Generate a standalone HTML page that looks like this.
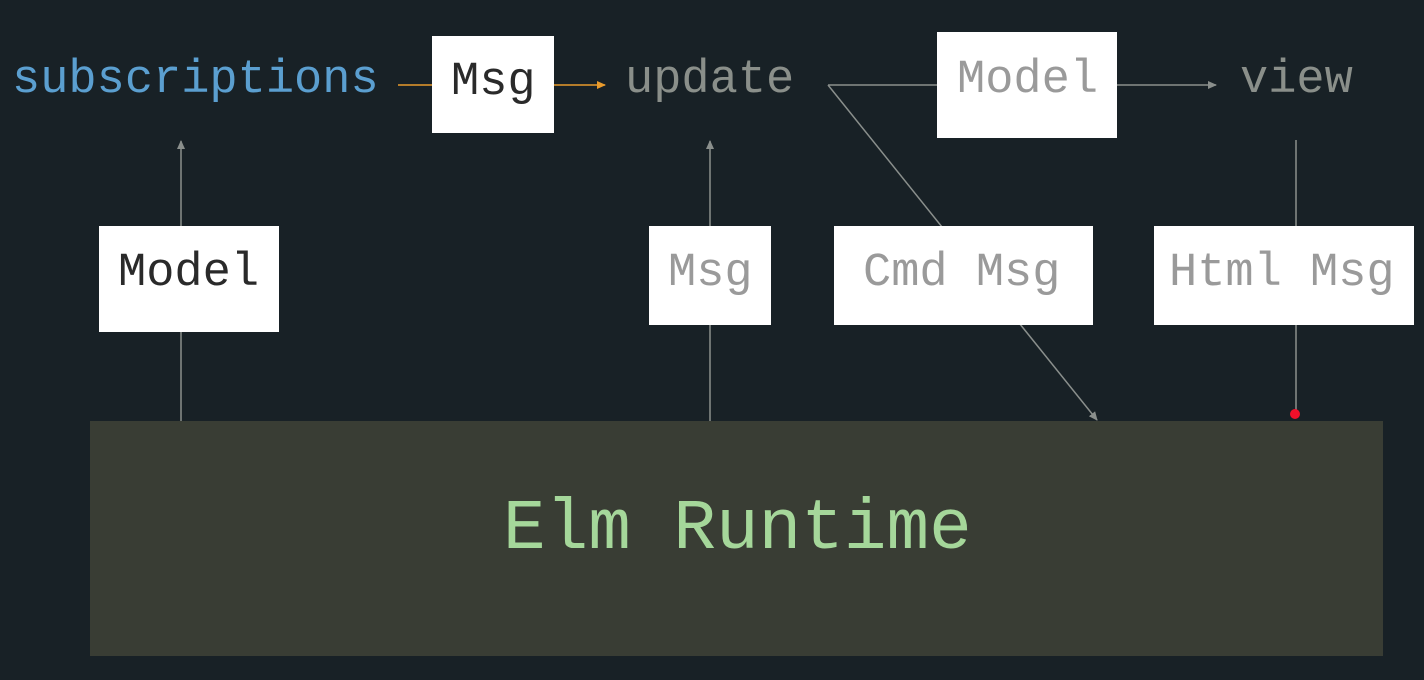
<!DOCTYPE html>
<html><head><style>
html,body{margin:0;padding:0;background:#182126;}
svg{display:block}
text{font-family:"Liberation Mono","DejaVu Sans Mono",monospace;}
</style></head><body>
<svg width="1424" height="680" viewBox="0 0 1424 680">
<defs>
<marker id="ag" markerWidth="10" markerHeight="10" refX="8" refY="4" orient="auto" markerUnits="userSpaceOnUse"><path d="M0,0 L9,4 L0,8 z" fill="#8a8f8c"/></marker>
<marker id="ao" markerWidth="10" markerHeight="10" refX="8" refY="4" orient="auto" markerUnits="userSpaceOnUse"><path d="M0,0 L9,4 L0,8 z" fill="#e89a2c"/></marker>
</defs>
<rect width="1424" height="680" fill="#182126"/>
<!-- lines -->
<g stroke="#8a8f8c" stroke-width="1.5" fill="none">
<line x1="181" y1="421" x2="181" y2="141" marker-end="url(#ag)"/>
<line x1="710" y1="421" x2="710" y2="141" marker-end="url(#ag)"/>
<line x1="828" y1="85" x2="937" y2="85"/>
<line x1="828" y1="85" x2="1097" y2="420" marker-end="url(#ag)"/>
<line x1="1117" y1="85" x2="1216" y2="85" marker-end="url(#ag)"/>
<line x1="1296" y1="140" x2="1296" y2="413"/>
</g>
<line x1="398" y1="85" x2="432" y2="85" stroke="#e89a2c" stroke-width="1.5"/>
<line x1="554" y1="85" x2="605" y2="85" stroke="#e89a2c" stroke-width="1.5" marker-end="url(#ao)"/>
<circle cx="1295" cy="414" r="5" fill="#f0102a"/>
<!-- boxes -->
<g fill="#ffffff">
<rect x="432" y="36" width="122" height="97"/>
<rect x="937" y="32" width="180" height="106"/>
<rect x="99" y="226" width="180" height="106"/>
<rect x="649" y="226" width="122" height="99"/>
<rect x="834" y="226" width="259" height="99"/>
<rect x="1154" y="226" width="260" height="99"/>
</g>
<rect x="90" y="421" width="1293" height="235" fill="#393d34"/>
<!-- text -->
<g font-size="47">
<text x="12" y="92" fill="#5b9fd0">subscriptions</text>
<text x="451" y="94" fill="#2a2a2a">Msg</text>
<text x="625" y="92" fill="#8a8f8a">update</text>
<text x="957" y="92" fill="#9a9a9a">Model</text>
<text x="1240" y="92" fill="#8a8f8a">view</text>
<text x="118" y="285" fill="#2a2a2a">Model</text>
<text x="668" y="285" fill="#9a9a9a">Msg</text>
<text x="863" y="285" fill="#9a9a9a">Cmd Msg</text>
<text x="1169" y="285" fill="#9a9a9a">Html Msg</text>
</g>
<text x="503" y="548" font-size="71" fill="#a5d79a">Elm Runtime</text>
</svg>
</body></html>
